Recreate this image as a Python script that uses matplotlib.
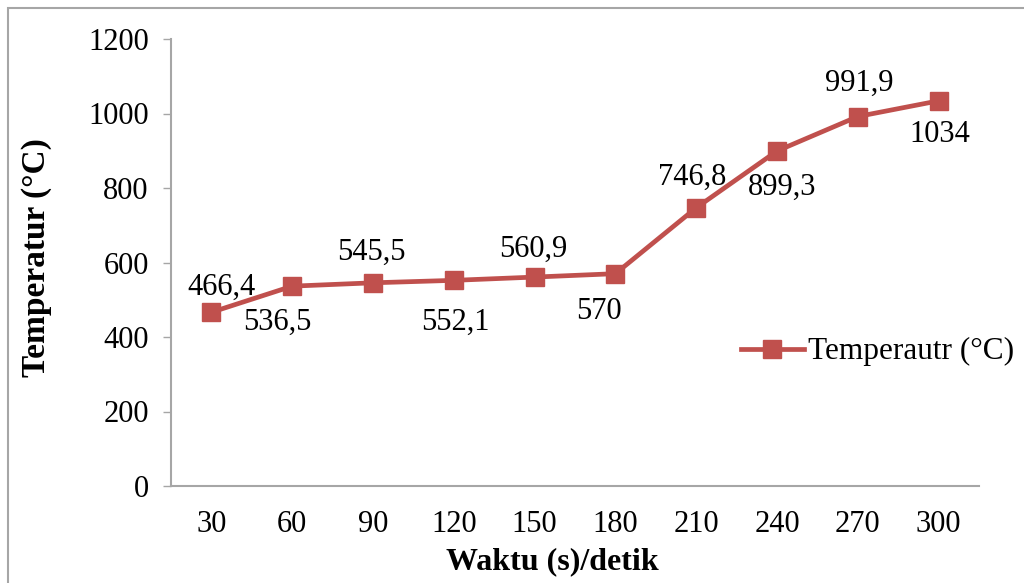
import matplotlib
matplotlib.use("Agg")
import matplotlib.pyplot as plt
from matplotlib.patches import Rectangle

plt.rcParams['font.family'] = ['Liberation Serif', 'DejaVu Serif']

waktu = ["30", "60", "90", "120", "150", "180", "210", "240", "270", "300"]
suhu = [466.4, 536.5, 545.5, 552.1, 560.9, 570, 746.8, 899.3, 991.9, 1034]
y_ticks = [0, 200, 400, 600, 800, 1000, 1200]
series_name = "Temperautr (°C)"

# label placement around each marker, in points (dx, dy)
label_offsets = [(7, 18), (-11, -26), (-1, 22), (1, -30), (-1, 20),
                 (-12, -27), (-3, 22), (4, -26), (1, 24), (1, -24)]

red = "#C0504D"
grey = "#A6A6A6"

fig = plt.figure(figsize=(10.24, 5.83), dpi=100)
ax = fig.add_axes([171 / 1024, 1 - 486 / 583, 808 / 1024, 447 / 583])

x = list(range(len(waktu)))
ax.plot(x, suhu, color=red, lw=3.4, marker="s", markersize=13.5,
        markeredgecolor=red, markerfacecolor=red, label=series_name)

for xi, v, (dx, dy) in zip(x, suhu, label_offsets):
    txt = f"{v:g}".replace(".", ",")
    ax.annotate(txt, (xi, v), xytext=(dx, dy), textcoords="offset points",
                ha="center", va="center", fontsize=22, color="black")

ax.set_xlim(-0.5, len(waktu) - 0.5)
ax.set_ylim(0, 1200)
ax.set_xticks(x)
ax.set_xticklabels(waktu)
ax.set_yticks(y_ticks)
ax.tick_params(axis="x", length=0, pad=17, labelsize=22)
ax.tick_params(axis="y", length=6, width=1, color=grey, pad=10, labelsize=22)

for s in ["top", "right"]:
    ax.spines[s].set_visible(False)
for s in ["left", "bottom"]:
    ax.spines[s].set_color(grey)
    ax.spines[s].set_linewidth(1.5)

ax.set_xlabel("Waktu (s)/detik", fontsize=23, fontweight="bold")
ax.xaxis.set_label_coords((552 - 171) / 808, -(547 - 486) / 447)
ax.set_ylabel("Temperatur (°C)", fontsize=24, fontweight="bold")
ax.yaxis.set_label_coords(-(171 - 52) / 808, (486 - 258) / 447)

ax.legend(loc="center left", bbox_to_anchor=(0.69, 0.30), frameon=False,
          fontsize=22.5, handlelength=2.0, handletextpad=0.15, borderaxespad=0)

# page frame
fig.patches.append(Rectangle((8 / 1024, -0.1), 1.2, 1.1 - 8 / 583,
                             transform=fig.transFigure, fill=False,
                             edgecolor=grey, lw=1.5))

fig.savefig("out.png", dpi=100)
